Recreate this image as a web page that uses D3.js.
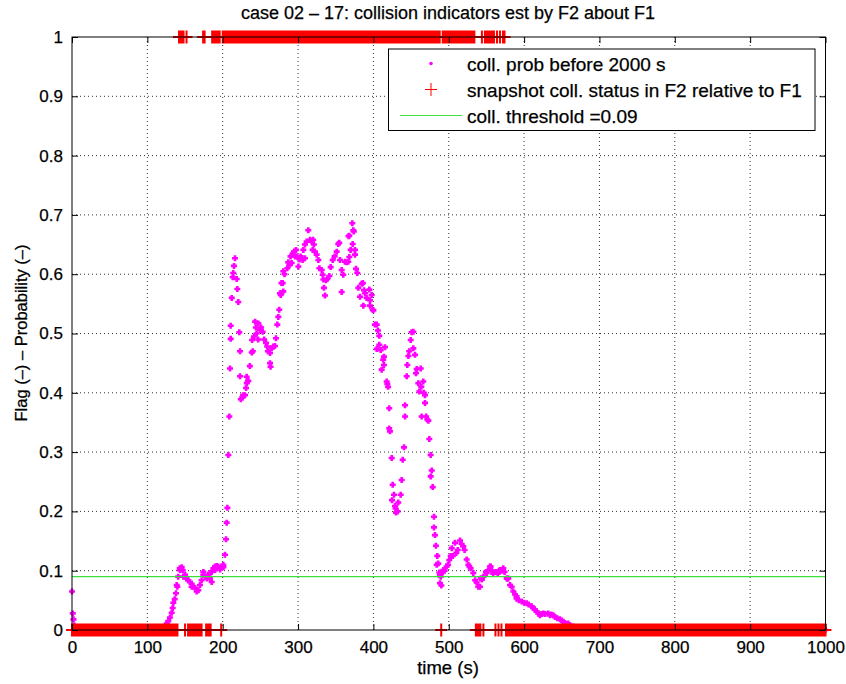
<!DOCTYPE html>
<html><head><meta charset="utf-8">
<script src="https://cdn.jsdelivr.net/npm/d3@7"></script>
<style>
body{margin:0;background:#fff}
text{font-family:"Liberation Sans",Arial,Helvetica,sans-serif}
</style>
</head><body>
<svg id="chart" width="846" height="684"></svg>
<script>
// ---------- data ----------
const titleText = "case 02 \u2013 17: collision indicators est by F2 about F1";
const xLabelText = "time (s)";
const yLabelText = "Flag (\u2013) \u2013 Probability (\u2013)";
const xTicks = [0,100,200,300,400,500,600,700,800,900,1000];
const yTicks = [0,0.1,0.2,0.3,0.4,0.5,0.6,0.7,0.8,0.9,1];
const legendLabels = ["coll. prob before 2000 s","snapshot coll. status in F2 relative to F1","coll. threshold =0.09"];
const threshold = 0.09;

// collision probability samples (time s, probability)
const probTime = [0,1,2,3,4,20,40,60,80,100,115,122,125.7,127.8,130,132.3,133.6,134.5,136.3,138,139,139.8,141,143,143.3,145.6,147,147.8,150,152,154,156.6,158.8,158.8,161,163.3,165.5,167.7,169.9,172,174.3,174.3,176.5,179,181,183,183,185.4,185.4,187.6,189.8,189.8,192,194,196.5,198.7,200.8,201,203,204.4,205.3,206.2,207.5,208.8,209.7,210.6,210.6,212,213.3,214,215,216.3,218.6,219.4,220.7,222,223,223,224,226,227,229.6,231,232,231.8,233.3,234,236,238.5,239,240,241.5,243,244,245,247,247.3,249.5,251,253,255,257.5,259,260,262.8,262.8,263.5,265,267,269.4,270.7,272.5,273.8,275,276,277,278,279.6,280.4,280.4,282,285.7,287,288.5,290,291.5,293,294.6,296,297.3,299,300.4,302,303.5,306,307,309.2,309.2,311.5,313.6,315.9,318,319.4,320,321,322.5,324.7,327,328.3,331.4,332.7,333.6,334.4,335.8,337,338.8,341.5,343.3,346,348.5,351.3,353.4,354.7,355.7,357.9,357.9,360,362.3,364.5,366.7,367,368,368,369.8,372,372.5,373.3,374,375.6,375.6,376.9,378.6,380,382.2,384.5,386,386.6,387.5,389,391,394.6,395.5,395.5,397.7,399,400,402,404.4,404.4,406,407.8,407.8,409.7,411,413,414,414,415.4,417.6,418.5,419.5,421,421,422,424.3,425.6,424.7,427.3,428.7,429.5,430,432,433,436.2,437.5,438.9,440.6,442,442,444.2,445,446.4,447.5,449.5,450.8,453,453,455.2,456.5,457.5,459.6,461,462.8,463.5,464,466.2,467,468.5,468.5,470,471.5,473,474.2,476,476,477.4,478.7,480.4,480.4,481.7,483,484,484.8,486,487.5,488.4,488.4,489.3,490.2,492,492.8,494.5,497.2,499,500.7,502.6,504,505.5,508.3,510,512,515,517,519.3,521,523.8,526,527.3,529,532.6,535,537,539.2,541.5,542.4,544,546,549.4,550.3,552,554.7,555.7,557,559,562.7,565,567,568,570,571.6,572.4,574,576.9,577.7,579,581.3,583.5,585.7,588,590,590,593,596.8,600,603.5,606,610,612,614,616.7,619,621,623,625.5,628,632,634.4,636,638.8,641,644,647.6,650,652,654,656.5,658.6,661,665,668,672,680,700,750,800,850,900,950,1000];
const probValue = [0.065,0.028,0.018,0.008,0,0,0,0,0,0,0,0.004,0.011,0.015,0.021,0.029,0.037,0.046,0.052,0.062,0.076,0.073,0.09,0.104,0.101,0.106,0.101,0.09,0.093,0.087,0.084,0.081,0.073,0.078,0.073,0.071,0.065,0.067,0.076,0.084,0.093,0.098,0.09,0.087,0.093,0.087,0.096,0.081,0.098,0.104,0.101,0.107,0.108,0.107,0.102,0.107,0.11,0.106,0.127,0.153,0.181,0.206,0.295,0.36,0.441,0.491,0.513,0.56,0.595,0.602,0.614,0.627,0.592,0.575,0.553,0.502,0.47,0.428,0.389,0.392,0.396,0.396,0.408,0.416,0.427,0.42,0.42,0.445,0.468,0.489,0.47,0.495,0.52,0.51,0.5,0.49,0.517,0.506,0.51,0.503,0.49,0.484,0.478,0.47,0.467,0.45,0.444,0.475,0.478,0.479,0.492,0.515,0.528,0.54,0.568,0.565,0.585,0.585,0.571,0.605,0.6,0.61,0.62,0.615,0.63,0.619,0.635,0.638,0.63,0.641,0.63,0.613,0.625,0.63,0.624,0.641,0.627,0.65,0.655,0.674,0.658,0.655,0.641,0.658,0.65,0.638,0.633,0.624,0.61,0.607,0.599,0.591,0.577,0.564,0.59,0.592,0.597,0.612,0.624,0.63,0.638,0.651,0.653,0.624,0.607,0.57,0.599,0.621,0.62,0.621,0.664,0.629,0.665,0.641,0.686,0.651,0.674,0.672,0.641,0.633,0.609,0.602,0.577,0.562,0.584,0.585,0.547,0.573,0.568,0.56,0.574,0.547,0.556,0.565,0.54,0.539,0.515,0.515,0.474,0.505,0.496,0.481,0.472,0.439,0.456,0.447,0.461,0.477,0.419,0.415,0.41,0.374,0.34,0.335,0.29,0.245,0.219,0.228,0.209,0.205,0.198,0.2,0.215,0.228,0.253,0.287,0.308,0.36,0.379,0.428,0.447,0.462,0.47,0.489,0.502,0.503,0.475,0.464,0.433,0.44,0.416,0.402,0.441,0.41,0.36,0.419,0.4,0.396,0.383,0.36,0.355,0.353,0.322,0.295,0.259,0.269,0.241,0.191,0.173,0.16,0.142,0.11,0.125,0.112,0.097,0.079,0.093,0.09,0.075,0.098,0.101,0.1,0.107,0.11,0.118,0.125,0.138,0.125,0.147,0.13,0.135,0.151,0.145,0.141,0.135,0.119,0.11,0.107,0.104,0.096,0.084,0.08,0.073,0.073,0.087,0.085,0.09,0.098,0.096,0.1,0.107,0.107,0.101,0.095,0.098,0.095,0.1,0.101,0.1,0.102,0.104,0.098,0.087,0.087,0.087,0.076,0.073,0.065,0.06,0.053,0.057,0.05,0.048,0.046,0.045,0.043,0.04,0.037,0.035,0.031,0.028,0.025,0.027,0.028,0.027,0.028,0.025,0.026,0.025,0.022,0.02,0.018,0.016,0.014,0.012,0.01,0.011,0.008,0.006,0.004,0.002,0,0,0,0,0,0,0,0];

// snapshot collision status: sampled every flagStep seconds; runs where the flag is 1
const flagStep = 2;
const flagSpan = [0, 1000];
const flagOneRuns = [[142,148],[152,152],[174,176],[186,196],[200,488],[492,534],[544,544],[548,560],[564,564],[568,568],[572,574]];

// ---------- chart ----------
const svg = d3.select("#chart");
const L = 72, R = 825.5, T = 37, B = 630;
const x = d3.scaleLinear().domain([0,1000]).range([L,R]);
const y = d3.scaleLinear().domain([0,1]).range([B,T]);

// grid
const grid = svg.append("g");
grid.selectAll("line.gx").data(xTicks.slice(1,-1)).join("line")
  .attr("x1",d=>x(d)).attr("x2",d=>x(d)).attr("y1",T).attr("y2",B)
  .attr("stroke","#333").attr("stroke-width",1).attr("stroke-dasharray","1,3");
grid.selectAll("line.gy").data(yTicks.slice(1,-1)).join("line")
  .attr("y1",d=>y(d)).attr("y2",d=>y(d)).attr("x1",L).attr("x2",R)
  .attr("stroke","#333").attr("stroke-width",1).attr("stroke-dasharray","1,3");

// probability points
const probData = probTime.map((t,i)=>({t, p:probValue[i]}));
const plusSmall = "M-3,0H3M0,-3V3";
svg.append("g").selectAll("path").data(probData).join("path")
  .attr("transform",d=>`translate(${x(d.t)},${y(d.p)})`)
  .attr("d",plusSmall).attr("stroke","#ff00ff").attr("stroke-width",2.6).attr("fill","none");

// flags: each sample drawn as a "+" marker, combined into one path
const flagData = d3.range(flagSpan[0], flagSpan[1]+flagStep/2, flagStep).map(t=>({
  t, f: flagOneRuns.some(r=>t>=r[0]&&t<=r[1]) ? 1 : 0
}));
const ph = 6, pv = 6.5;
const flagPath = d3.path();
flagData.forEach(d=>{
  const cx = x(d.t), cy = y(d.f);
  flagPath.moveTo(cx-ph, cy); flagPath.lineTo(cx+ph, cy);
  flagPath.moveTo(cx, cy-pv); flagPath.lineTo(cx, cy+pv);
});
svg.append("path").attr("d",flagPath.toString()).attr("stroke","#ff0000")
  .attr("stroke-width",2).attr("stroke-linecap","butt").attr("fill","none");

// threshold
svg.append("line").attr("x1",L).attr("x2",R).attr("y1",y(threshold)).attr("y2",y(threshold))
  .attr("stroke","#3ee03e").attr("stroke-width",1.2);

// axes
const fontSize = "17px";
const xAxis = d3.axisBottom(x).tickValues(xTicks).tickFormat(d3.format("d")).tickSizeInner(-6).tickSizeOuter(0).tickPadding(11);
const gx = svg.append("g").attr("transform",`translate(0,${B})`).call(xAxis);
const yAxis = d3.axisLeft(y).tickValues(yTicks).tickFormat(d=>d===0||d===1?String(d):d3.format(".1f")(d)).tickSizeInner(-6).tickSizeOuter(0).tickPadding(9);
const gy = svg.append("g").attr("transform",`translate(${L},0)`).call(yAxis);
const xTop = d3.axisTop(x).tickValues(xTicks).tickFormat("").tickSizeInner(-6).tickSizeOuter(0);
svg.append("g").attr("transform",`translate(0,${T})`).call(xTop);
const yRight = d3.axisRight(y).tickValues(yTicks).tickFormat("").tickSizeInner(-6).tickSizeOuter(0);
svg.append("g").attr("transform",`translate(${R},0)`).call(yRight);
svg.selectAll(".domain").remove();
svg.selectAll(".tick line").attr("stroke","#000");
[gx,gy].forEach(g=>g.selectAll("text").attr("font-size",fontSize).attr("fill","#000")
  .attr("stroke","#000").attr("stroke-width",0.25)
  .style("font-family",'"Liberation Sans",Arial,sans-serif'));

svg.append("rect").attr("x",L).attr("y",T).attr("width",R-L).attr("height",B-T)
  .attr("fill","none").attr("stroke","#000").attr("stroke-width",1);

// labels
const lbl = (sel)=>sel.attr("fill","#000").attr("stroke","#000").attr("stroke-width",0.25);
lbl(svg.append("text").attr("x",448).attr("y",19).attr("text-anchor","middle").attr("font-size","18px").text(titleText));
lbl(svg.append("text").attr("x",448).attr("y",674).attr("text-anchor","middle").attr("font-size","18.5px").text(xLabelText));
lbl(svg.append("text").attr("transform","translate(27,333) rotate(-90)").attr("text-anchor","middle").attr("font-size","16.5px").text(yLabelText));

// legend
const lg = svg.append("g");
lg.append("rect").attr("x",388.5).attr("y",49).attr("width",426.5).attr("height",81.5)
  .attr("fill","#fff").attr("stroke","#000").attr("stroke-width",1);
const rowY = [63.5, 89.5, 115.5];
lg.append("circle").attr("cx",431).attr("cy",rowY[0]).attr("r",1.8).attr("fill","#ff00ff");
lg.append("path").attr("transform",`translate(431,${rowY[1]})`).attr("d","M-6,0H6M0,-6.5V6.5").attr("stroke","#ff0000").attr("stroke-width",1).attr("fill","none");
lg.append("line").attr("x1",400).attr("x2",462).attr("y1",rowY[2]).attr("y2",rowY[2]).attr("stroke","#3ee03e").attr("stroke-width",1.2);
lbl(lg.selectAll("text").data(legendLabels).join("text")
  .attr("x",467).attr("y",(d,i)=>rowY[i]+7).attr("font-size","19px").text(d=>d));
</script>
</body></html>
